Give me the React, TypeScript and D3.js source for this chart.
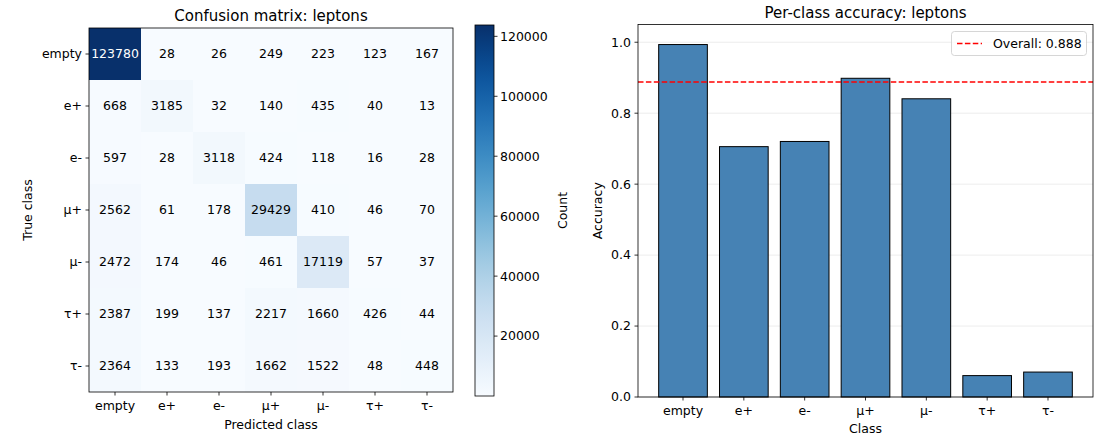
import { scaleBand, scaleLinear, scaleSequential, interpolateBlues, range } from "d3";

const classes = ["empty", "e+", "e-", "μ+", "μ-", "τ+", "τ-"];
const matrixRows = [
  [123780, 28, 26, 249, 223, 123, 167],
  [668, 3185, 32, 140, 435, 40, 13],
  [597, 28, 3118, 424, 118, 16, 28],
  [2562, 61, 178, 29429, 410, 46, 70],
  [2472, 174, 46, 461, 17119, 57, 37],
  [2387, 199, 137, 2217, 1660, 426, 44],
  [2364, 133, 193, 1662, 1522, 48, 448],
];
const accuracy = [0.9935, 0.7057, 0.7203, 0.8984, 0.8406, 0.0603, 0.0703];
const overall = 0.888;
const colorbarTicks = [20000, 40000, 60000, 80000, 100000, 120000];
const accTicks = [0, 0.2, 0.4, 0.6, 0.8, 1.0];

const font = "DejaVu Sans, sans-serif";
const fs = 12.5;
const titleFs = 15;

const cm = { left: 89, right: 453, top: 28, bottom: 392 };
const cb = { left: 475, right: 494, top: 25, bottom: 396 };
const bc = { left: 638, right: 1093, top: 24.5, bottom: 397 };

export default function App() {
  const allVals = matrixRows.flat();
  const vmin = Math.min(...allVals);
  const vmax = Math.max(...allVals);
  const color = scaleSequential(interpolateBlues).domain([vmin, vmax]);

  const cx = scaleBand<string>().domain(classes).range([cm.left, cm.right]);
  const cy = scaleBand<string>().domain(classes).range([cm.top, cm.bottom]);
  const cbY = scaleLinear().domain([vmin, vmax]).range([cb.bottom, cb.top]);

  const bx = scaleLinear().domain([-0.74, 6.74]).range([bc.left, bc.right]);
  const by = scaleLinear().domain([0, 1.05]).range([bc.bottom, bc.top]);
  const barW = 0.8;

  const cmMid = (cm.left + cm.right) / 2;
  const bcMid = (bc.left + bc.right) / 2;
  const stops = range(0, 1.0001, 0.05);

  return (
    <svg width={1102} height={436} style={{ position: "absolute", left: 0, top: 0 }} fontFamily={font}>
      <defs>
        <linearGradient id="cbgrad" x1="0" y1="1" x2="0" y2="0">
          {stops.map((t, i) => (
            <stop key={i} offset={t} stopColor={interpolateBlues(t)} />
          ))}
        </linearGradient>
      </defs>
      <rect width={1102} height={436} fill="#fff" />

      {/* confusion matrix */}
      <text x={cmMid} y={21} textAnchor="middle" fontSize={titleFs} fill="#000">Confusion matrix: leptons</text>
      {matrixRows.map((row, i) =>
        row.map((v, j) => (
          <g key={`${i}-${j}`}>
            <rect x={cx(classes[j])} y={cy(classes[i])} width={cx.bandwidth()} height={cy.bandwidth()} fill={color(v)} />
            <text
              x={cx(classes[j])! + cx.bandwidth() / 2}
              y={cy(classes[i])! + cy.bandwidth() / 2}
              dy="0.35em"
              textAnchor="middle"
              fontSize={fs}
              fill={v > vmax / 2 ? "#fff" : "#000"}
            >
              {v}
            </text>
          </g>
        ))
      )}
      <rect x={cm.left} y={cm.top} width={cm.right - cm.left} height={cm.bottom - cm.top} fill="none" stroke="#000" strokeWidth={0.8} />
      {classes.map((c) => (
        <g key={c}>
          <line x1={cx(c)! + cx.bandwidth() / 2} x2={cx(c)! + cx.bandwidth() / 2} y1={cm.bottom} y2={cm.bottom + 3.5} stroke="#000" strokeWidth={0.8} />
          <text x={cx(c)! + cx.bandwidth() / 2} y={cm.bottom + 18} textAnchor="middle" fontSize={fs}>{c}</text>
          <line x1={cm.left - 3.5} x2={cm.left} y1={cy(c)! + cy.bandwidth() / 2} y2={cy(c)! + cy.bandwidth() / 2} stroke="#000" strokeWidth={0.8} />
          <text x={cm.left - 7} y={cy(c)! + cy.bandwidth() / 2} dy="0.35em" textAnchor="end" fontSize={fs}>{c}</text>
        </g>
      ))}
      <text x={cmMid} y={429} textAnchor="middle" fontSize={fs}>Predicted class</text>
      <text transform={`translate(32,${(cm.top + cm.bottom) / 2}) rotate(-90)`} textAnchor="middle" fontSize={fs}>True class</text>

      {/* colorbar */}
      <rect x={cb.left} y={cb.top} width={cb.right - cb.left} height={cb.bottom - cb.top} fill="url(#cbgrad)" stroke="#000" strokeWidth={0.8} />
      {colorbarTicks.map((t) => (
        <g key={t}>
          <line x1={cb.right} x2={cb.right + 3.5} y1={cbY(t)} y2={cbY(t)} stroke="#000" strokeWidth={0.8} />
          <text x={cb.right + 6} y={cbY(t)} dy="0.35em" fontSize={fs}>{t}</text>
        </g>
      ))}
      <text transform={`translate(567,${(cb.top + cb.bottom) / 2}) rotate(-90)`} textAnchor="middle" fontSize={fs}>Count</text>

      {/* per-class accuracy */}
      <text x={bcMid} y={18} textAnchor="middle" fontSize={titleFs}>Per-class accuracy: leptons</text>
      {accTicks.map((t) => (
        <line key={t} x1={bc.left} x2={bc.right} y1={by(t)} y2={by(t)} stroke="#b0b0b0" strokeOpacity={0.3} strokeWidth={0.8} />
      ))}
      {accuracy.map((a, i) => (
        <rect
          key={i}
          x={bx(i - barW / 2)}
          y={by(a)}
          width={bx(barW) - bx(0)}
          height={by(0) - by(a)}
          fill="steelblue"
          stroke="#000"
          strokeWidth={1}
        />
      ))}
      <line x1={bc.left} x2={bc.right} y1={by(overall)} y2={by(overall)} stroke="red" strokeWidth={1.5} strokeDasharray="5.5,2.4" />
      <rect x={bc.left} y={bc.top} width={bc.right - bc.left} height={bc.bottom - bc.top} fill="none" stroke="#000" strokeWidth={0.8} />
      {accTicks.map((t) => (
        <g key={t}>
          <line x1={bc.left - 3.5} x2={bc.left} y1={by(t)} y2={by(t)} stroke="#000" strokeWidth={0.8} />
          <text x={bc.left - 7} y={by(t)} dy="0.35em" textAnchor="end" fontSize={fs}>{t.toFixed(1)}</text>
        </g>
      ))}
      {classes.map((c, i) => (
        <g key={c}>
          <line x1={bx(i)} x2={bx(i)} y1={bc.bottom} y2={bc.bottom + 3.5} stroke="#000" strokeWidth={0.8} />
          <text x={bx(i)} y={bc.bottom + 18} textAnchor="middle" fontSize={fs}>{c}</text>
        </g>
      ))}
      <text x={bcMid} y={433} textAnchor="middle" fontSize={fs}>Class</text>
      <text transform={`translate(602,${(bc.top + bc.bottom) / 2}) rotate(-90)`} textAnchor="middle" fontSize={fs}>Accuracy</text>

      {/* legend */}
      <rect x={951.5} y={31.5} width={135} height={24} rx={3} fill="#fff" fillOpacity={0.8} stroke="#ccc" strokeWidth={0.8} />
      <line x1={957} x2={982} y1={43.5} y2={43.5} stroke="red" strokeWidth={1.5} strokeDasharray="5.5,2.4" />
      <text x={993} y={43.5} dy="0.35em" fontSize={fs}>Overall: 0.888</text>
    </svg>
  );
}
